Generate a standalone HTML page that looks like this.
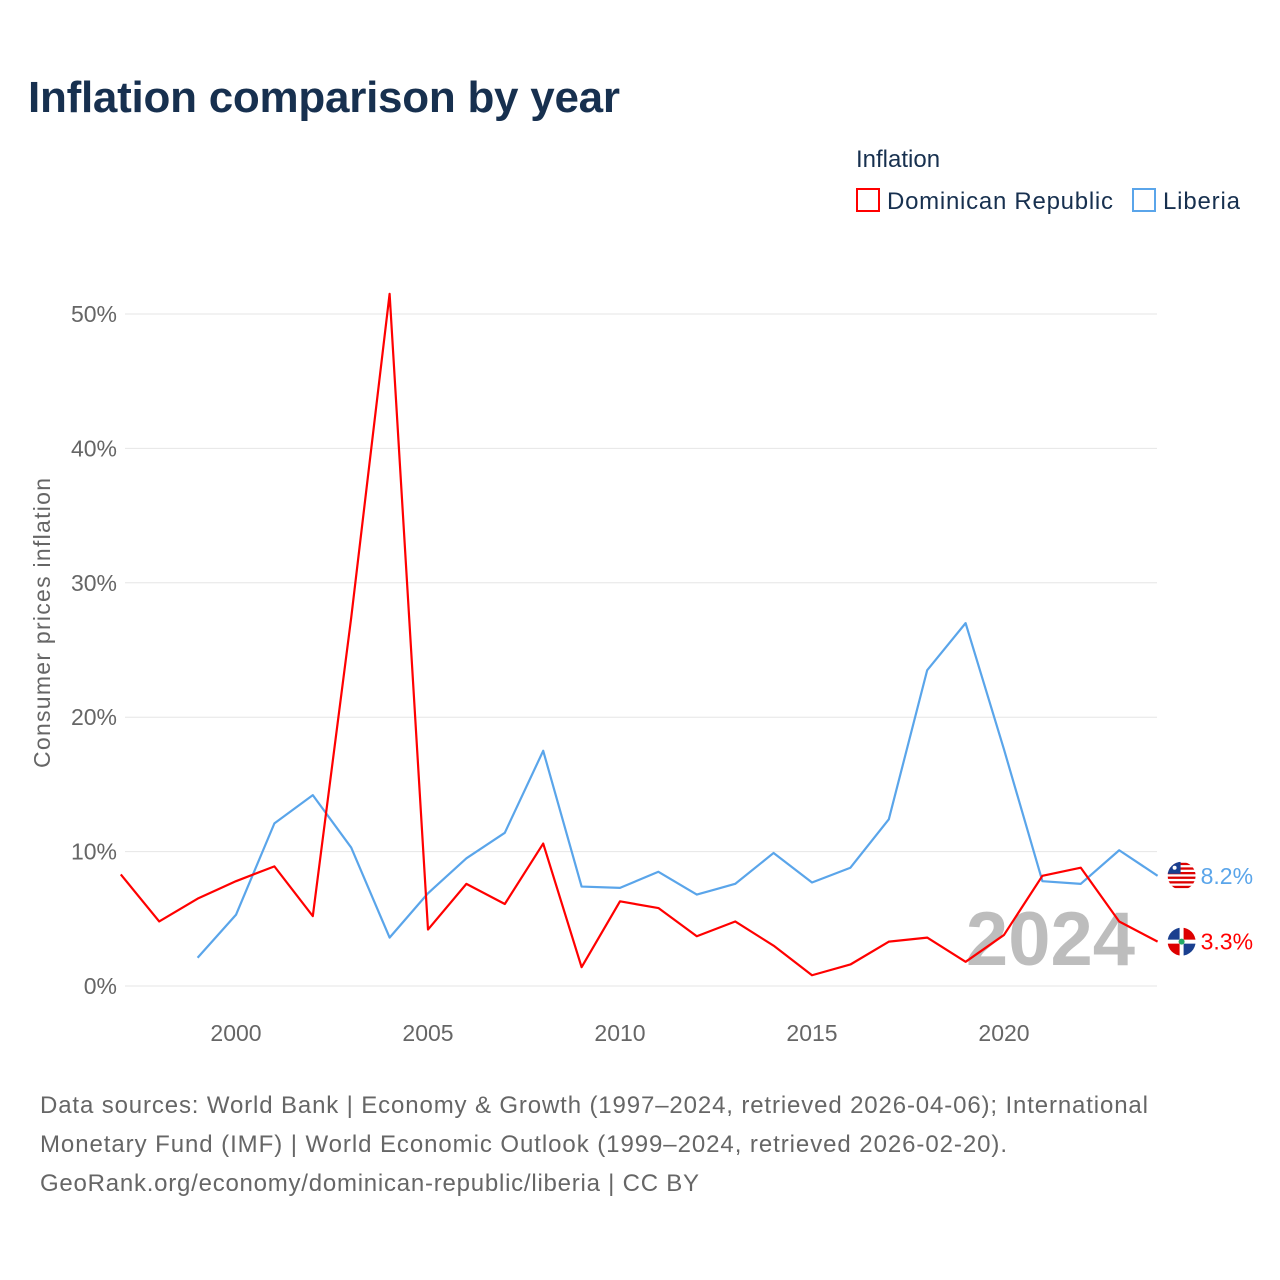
<!DOCTYPE html>
<html><head><meta charset="utf-8"><style>
body{margin:0;background:#fff;width:1280px;height:1280px;overflow:hidden;font-family:"Liberation Sans",sans-serif}
svg{position:absolute;left:0;top:0}
</style></head><body>
<svg width="1280" height="1280">
<defs><clipPath id="c1"><circle cx="0" cy="0" r="14"/></clipPath></defs>
<text x="28" y="112" font-size="44" font-weight="bold" fill="#17304f" textLength="592">Inflation comparison by year</text>
<g>
<text x="856" y="167" font-size="24" fill="#17304f">Inflation</text>
<g><rect x="857" y="189" width="22" height="22" fill="none" stroke="#ff0000" stroke-width="2"/><text x="887" y="209" font-size="24" fill="#17304f" textLength="226">Dominican Republic</text></g>
<g><rect x="1133" y="189" width="22" height="22" fill="none" stroke="#5aa5ea" stroke-width="2"/><text x="1163" y="209" font-size="24" fill="#17304f" textLength="77">Liberia</text></g>
</g>
<g id="grid"></g>
<g id="yticks"></g>
<g id="xticks"></g>
<text transform="translate(50,623) rotate(-90)" text-anchor="middle" font-size="23" fill="#666" textLength="290">Consumer prices inflation</text>
<text x="1135" y="965" text-anchor="end" font-size="76" font-weight="bold" fill="#bdbdbd">2024</text>
<g id="series"></g>
<g font-size="24" fill="#666">
<text x="40" y="1113" textLength="1108">Data sources: World Bank | Economy &amp; Growth (1997–2024, retrieved 2026-04-06); International</text>
<text x="40" y="1152" textLength="967">Monetary Fund (IMF) | World Economic Outlook (1999–2024, retrieved 2026-02-20).</text>
<text x="40" y="1191" textLength="659">GeoRank.org/economy/dominican-republic/liberia | CC BY</text>
</g>
</svg>
<script>
const drYears=[1997,1998,1999,2000,2001,2002,2003,2004,2005,2006,2007,2008,2009,2010,2011,2012,2013,2014,2015,2016,2017,2018,2019,2020,2021,2022,2023,2024];
const drValues=[8.3,4.8,6.5,7.8,8.9,5.2,27.4,51.5,4.2,7.6,6.1,10.6,1.4,6.3,5.8,3.7,4.8,3.0,0.8,1.6,3.3,3.6,1.8,3.8,8.2,8.8,4.8,3.3];
const lbYears=[1999,2000,2001,2002,2003,2004,2005,2006,2007,2008,2009,2010,2011,2012,2013,2014,2015,2016,2017,2018,2019,2020,2021,2022,2023,2024];
const lbValues=[2.1,5.3,12.1,14.2,10.3,3.6,6.9,9.5,11.4,17.5,7.4,7.3,8.5,6.8,7.6,9.9,7.7,8.8,12.4,23.5,27.0,17.6,7.8,7.6,10.1,8.2];
const yTicks=[0,10,20,30,40,50];
const xTicks=[2000,2005,2010,2015,2020];
const NS="http://www.w3.org/2000/svg";
const X=y=>120.8+(y-1997)*38.4;
const Y=v=>986-v*13.44;
function mk(t,a,p){const e=document.createElementNS(NS,t);for(const k in a)e.setAttribute(k,a[k]);p.appendChild(e);return e;}
const grid=document.getElementById('grid'),yt=document.getElementById('yticks'),xt=document.getElementById('xticks'),se=document.getElementById('series');
yTicks.forEach(v=>{
 const l=mk('line',{x1:125,x2:1157,y1:Y(v),y2:Y(v),stroke:'#e6e6e6','stroke-width':1},grid);
 
 
 const t=mk('text',{x:117,y:Y(v)+8,'text-anchor':'end','font-size':23,fill:'#666'},yt);
 t.textContent=v+'%';
 
 
});
xTicks.forEach(v=>{
 const t=mk('text',{x:X(v),y:1041,'text-anchor':'middle','font-size':23,fill:'#666'},xt);
 t.textContent=v;
 
 
});
function line(ys,vs,c,name){
 const p=mk('polyline',{points:ys.map((y,i)=>X(y)+','+Y(vs[i])).join(' '),fill:'none',stroke:c,'stroke-width':2.2,'stroke-linejoin':'round'},se);
 
 
}
line(lbYears,lbValues,'#5aa5ea','liberia-line');
line(drYears,drValues,'#ff0000','dominican-republic-line');
function endLabel(ys,vs,c,name,flag){
 const v=vs[vs.length-1],x=X(ys[ys.length-1]),y=Y(v);
 const g=mk('g',{},se);
 
 
 const f=mk('g',{transform:'translate('+(x+24)+','+y+')','clip-path':'url(#c1)'},g);
 mk('circle',{cx:0,cy:0,r:14,fill:'#fff'},f);
 if(flag==='lr'){for(let i=0;i<6;i++)mk('rect',{x:-14,y:-13+i*4.6,width:28,height:2.3,fill:'#d00'},f);mk('rect',{x:-14,y:-14,width:13,height:12,fill:'#1a3f8f'},f);mk('circle',{cx:-7,cy:-8,r:2,fill:'#fff'},f);}
 else{mk('rect',{x:-14,y:-14,width:12,height:12,fill:'#1a3f8f'},f);mk('rect',{x:2,y:2,width:12,height:12,fill:'#1a3f8f'},f);mk('rect',{x:2,y:-14,width:12,height:12,fill:'#d00'},f);mk('rect',{x:-14,y:2,width:12,height:12,fill:'#d00'},f);mk('circle',{cx:0,cy:0,r:3,fill:'#2a6'},f);}
 const t=mk('text',{x:x+43,y:y+8,'font-size':23,fill:c},g);
 t.textContent=v.toFixed(1)+'%';
}
endLabel(lbYears,lbValues,'#5aa5ea','liberia-end-label','lr');
endLabel(drYears,drValues,'#ff0000','dominican-republic-end-label','dr');
</script>
</body></html>
